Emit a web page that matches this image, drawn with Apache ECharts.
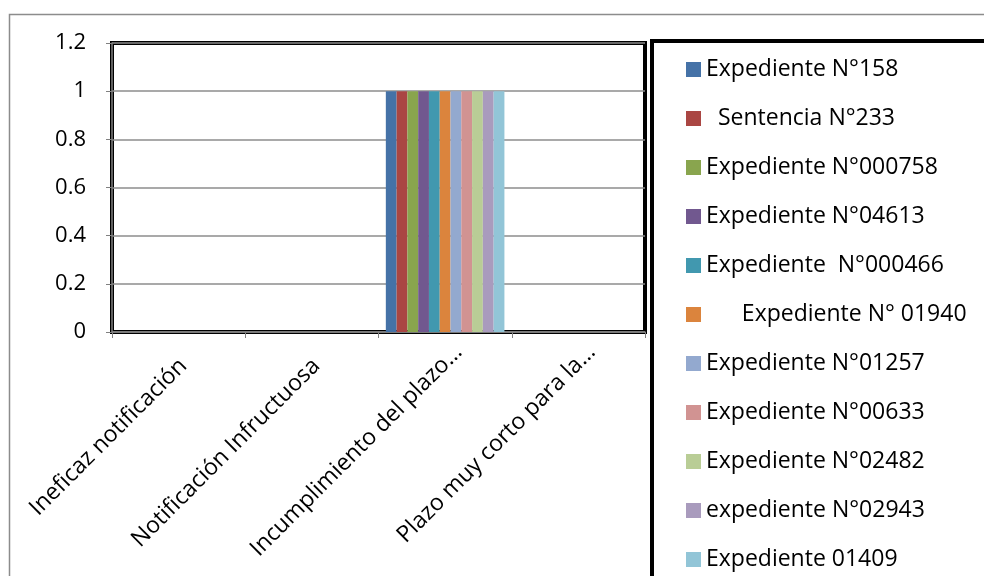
<!DOCTYPE html>
<html><head><meta charset="utf-8">
<script src="https://cdn.jsdelivr.net/npm/echarts@6/dist/echarts.min.js"></script>
<style>html,body{margin:0;padding:0;background:#fff}#c{width:984px;height:576px}</style>
</head><body><div id="c"></div>
<script>
var categories = ["Ineficaz notificación", "Notificación Infructuosa", "Incumplimiento del plazo…", "Plazo muy corto para la…"];
var seriesNames = ["Expediente N°158", "  Sentencia N°233", "Expediente N°000758", "Expediente N°04613", "Expediente  N°000466", "      Expediente N° 01940", "Expediente N°01257", "Expediente N°00633", "Expediente N°02482", "expediente N°02943", "Expediente 01409"];
var s158 = [0, 0, 1, 0];
var s233 = [0, 0, 1, 0];
var s000758 = [0, 0, 1, 0];
var s04613 = [0, 0, 1, 0];
var s000466 = [0, 0, 1, 0];
var s01940 = [0, 0, 1, 0];
var s01257 = [0, 0, 1, 0];
var s00633 = [0, 0, 1, 0];
var s02482 = [0, 0, 1, 0];
var s02943 = [0, 0, 1, 0];
var s01409 = [0, 0, 1, 0];
var seriesValues = [s158, s233, s000758, s04613, s000466, s01940, s01257, s00633, s02482, s02943, s01409];
var colors = ["#4572a7", "#aa4643", "#89a54e", "#71588f", "#4198af", "#db843d", "#93a9cf", "#d19392", "#b9cd96", "#a99bbd", "#92c5d7"];

var font = "Open Sans";
var chart = echarts.init(document.getElementById('c'));
chart.setOption({
  animation: false,
  color: colors,
  textStyle: { fontFamily: font, color: '#000' },
  graphic: [
    { type: 'rect', shape: { x: 9.5, y: 14.5, width: 1000, height: 600 }, style: { fill: 'none', stroke: '#8c8c8c', lineWidth: 1.5 }, z: -1 },
    { type: 'rect', shape: { x: 652, y: 41, width: 360, height: 560 }, style: { fill: '#fff', stroke: '#000', lineWidth: 4 }, z: 0 }
  ],
  legend: {
    orient: 'vertical',
    left: 686,
    top: 58,
    padding: 0,
    itemWidth: 15,
    itemHeight: 15,
    itemGap: 26,
    icon: 'rect',
    textStyle: { fontFamily: font, fontSize: 23, color: '#000' },
    data: seriesNames,
    z: 5
  },
  grid: {
    left: 112, top: 43, width: 533, height: 289,
    show: true, borderColor: '#000', borderWidth: 4, backgroundColor: 'transparent'
  },
  xAxis: {
    type: 'category',
    data: categories,
    axisLine: { lineStyle: { color: '#808080', width: 1.5 } },
    axisTick: { show: true, length: 6, lineStyle: { color: '#808080' } },
    axisLabel: {
      rotate: 45, fontSize: 23, color: '#000', fontFamily: font, margin: 30, interval: 0,
      formatter: function (v) { return '{' + (v.charAt(v.length - 1) === '…' ? 't' : 'f') + '|' + v + '}'; },
      rich: {
        t: { fontSize: 23, fontFamily: font, color: '#000', padding: [0, -19, 0, 0] },
        f: { fontSize: 23, fontFamily: font, color: '#000', padding: [7, -3, 0, 0] }
      }
    }
  },
  yAxis: {
    type: 'value', min: 0, max: 1.2, interval: 0.2,
    axisLine: { show: true, lineStyle: { color: '#808080', width: 1.5 } },
    axisTick: { show: true, length: 6, lineStyle: { color: '#808080' } },
    splitLine: { lineStyle: { color: '#8c8c8c', width: 1.5 } },
    axisLabel: { fontSize: 22, color: '#000', fontFamily: font, margin: 26,
      formatter: function (v) { return String(Math.round(v * 10) / 10); } }
  },
  series: seriesNames.map(function (n, i) {
    return { name: n, type: 'bar', data: seriesValues[i], barGap: '0%', barCategoryGap: '11%' };
  })
});
</script></body></html>
